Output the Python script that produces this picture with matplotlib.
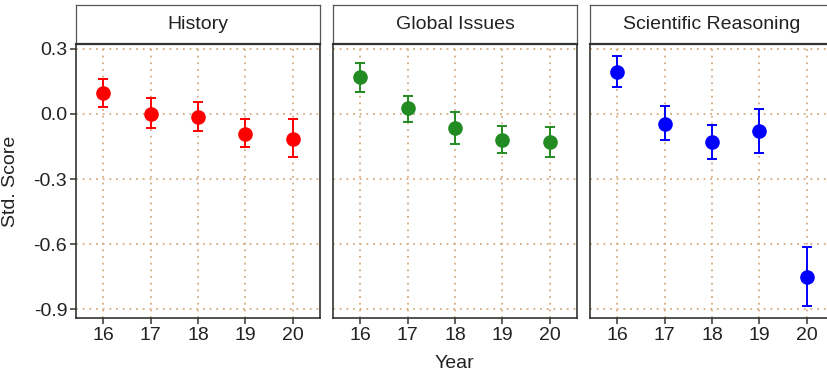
import numpy as np
import matplotlib
matplotlib.use("Agg")
import matplotlib.pyplot as plt

plt.rcParams['font.family'] = ['Liberation Sans', 'DejaVu Sans']

# data
years = [16, 17, 18, 19, 20]
subjects = ['History', 'Global Issues', 'Scientific Reasoning']
colors = ['#FF0000', '#228B22', '#0000FF']

history_mean = [0.095, 0.002, -0.015, -0.091, -0.114]
history_lo = [0.031, -0.063, -0.080, -0.154, -0.200]
history_hi = [0.160, 0.072, 0.055, -0.023, -0.023]

global_mean = [0.169, 0.026, -0.065, -0.120, -0.129]
global_lo = [0.103, -0.035, -0.137, -0.180, -0.198]
global_hi = [0.237, 0.085, 0.008, -0.057, -0.060]

sci_mean = [0.194, -0.045, -0.131, -0.078, -0.751]
sci_lo = [0.123, -0.122, -0.209, -0.178, -0.883]
sci_hi = [0.265, 0.035, -0.051, 0.025, -0.614]

means = [history_mean, global_mean, sci_mean]
los = [history_lo, global_lo, sci_lo]
his = [history_hi, global_hi, sci_hi]

yticks = [0.3, 0.0, -0.3, -0.6, -0.9]
ytick_labels = ['0.3', '0.0', '-0.3', '-0.6', '-0.9']

W, H = 827, 377
fig = plt.figure(figsize=(W / 100, H / 100), dpi=100)

# y range with ggplot-style 5% expansion
ymin = min(min(l) for l in los)
ymax = max(max(h) for h in his)
pad = (ymax - ymin) * 0.05
ylim = (ymin - pad, ymax + pad)

edge = '#333333'
grid_col = '#D4AC80'
fs = 14

lefts = [76, 333, 590]
pw, top, bottom = 244, 44, 318
for i, subj in enumerate(subjects):
    ax = fig.add_axes([lefts[i] / W, (H - bottom) / H, pw / W, (bottom - top) / H])
    m = np.array(means[i])
    lo = np.array(los[i])
    hi = np.array(his[i])
    ax.errorbar(years, m, yerr=[m - lo, hi - m], fmt='o', color=colors[i],
                markersize=9.5, elinewidth=1.4, capsize=3.3, capthick=1.4, zorder=3)
    ax.set_xlim(15.42, 20.58)
    ax.set_ylim(*ylim)
    ax.set_xticks(years)
    ax.set_xticklabels([str(y) for y in years])
    ax.set_yticks(yticks)
    if i == 0:
        ax.set_yticklabels(ytick_labels)
    else:
        ax.tick_params(axis='y', left=False, labelleft=False)
    ax.grid(True, color=grid_col, linestyle=(0, (1, 2.7)), linewidth=1.3, zorder=0)
    ax.set_axisbelow(True)
    for s in ax.spines.values():
        s.set_color(edge)
        s.set_linewidth(1.2)
    ax.tick_params(direction='out', length=4.3, width=1.1, color=edge,
                   labelsize=fs, labelcolor='#222222', pad=2)

    # facet strip
    sx = fig.add_axes([lefts[i] / W, (H - top) / H, pw / W, 39 / H])
    sx.set_xticks([])
    sx.set_yticks([])
    sx.set_facecolor('white')
    for s in sx.spines.values():
        s.set_color('#555555')
        s.set_linewidth(0.9)
    sx.spines['bottom'].set_linewidth(1.6)
    sx.spines['bottom'].set_color(edge)
    sx.text(0.5, 0.5, subj, ha='center', va='center', fontsize=fs,
            color='#222222', transform=sx.transAxes)

fig.text(11 / W, (H - 181) / H, 'Std. Score', rotation=90, ha='center', va='center',
         fontsize=fs, color='#222222')
fig.text(454 / W, (H - 364) / H, 'Year', ha='center', va='center',
         fontsize=fs, color='#222222')

fig.savefig('out.png', dpi=100)
